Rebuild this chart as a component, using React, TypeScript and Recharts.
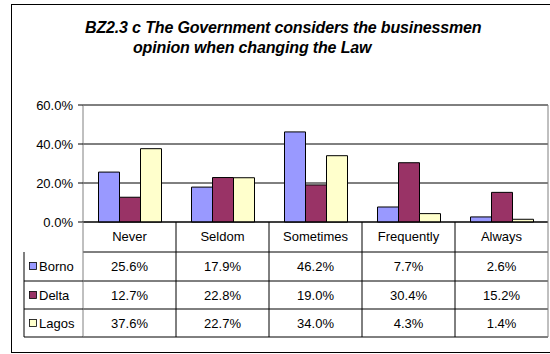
import { BarChart, Bar, XAxis, YAxis, CartesianGrid, ReferenceLine } from 'recharts';

const categories = ['Never', 'Seldom', 'Sometimes', 'Frequently', 'Always'];
const borno = [25.6, 17.9, 46.2, 7.7, 2.6];
const delta = [12.7, 22.8, 19.0, 30.4, 15.2];
const lagos = [37.6, 22.7, 34.0, 4.3, 1.4];
const yTicks = [0, 20, 40, 60];

const series = [
  { key: 'Borno', values: borno, color: '#9999FF' },
  { key: 'Delta', values: delta, color: '#993366' },
  { key: 'Lagos', values: lagos, color: '#FFFFCC' },
];

const data = categories.map((c, i) => ({
  name: c,
  Borno: borno[i],
  Delta: delta[i],
  Lagos: lagos[i],
}));

const FONT = '"Liberation Sans", Arial, sans-serif';
const CHART_W = 550;
const CHART_H = 354;
const PLOT_LEFT = 83;
const PLOT_RIGHT = 548;
const PLOT_H = 117;
const COL_W = (PLOT_RIGHT - PLOT_LEFT) / categories.length;
const LEGEND_W = 59;
// row boundaries below the axis line
const ROW_LINES = [30, 59, 87, 115];
const HEADER_Y = 14;
const ROW_Y = [44, 73, 101];
const GRAY = '#808080';

const TableTick = (props: any) => {
  const { x, y, payload } = props;
  const i = payload.index;
  const left = x - COL_W / 2;
  const right = x + COL_W / 2;
  const bottom = y + ROW_LINES[ROW_LINES.length - 1];
  const last = i === categories.length - 1;
  return (
    <g>
      <text x={x} y={y + HEADER_Y} textAnchor="middle" dominantBaseline="central"
        fontFamily={FONT} fontSize={13} fill="#000">{payload.value}</text>
      {series.map((s, r) => (
        <text key={s.key} x={x} y={y + ROW_Y[r]} textAnchor="middle" dominantBaseline="central"
          fontFamily={FONT} fontSize={13} fill="#000">{s.values[i].toFixed(1)}%</text>
      ))}
      {ROW_LINES.map((d) => (
        <line key={d} x1={left} x2={right} y1={y + d} y2={y + d} stroke="#000" />
      ))}
      <line x1={right} x2={right} y1={y} y2={bottom} stroke={last ? GRAY : '#000'} />
      {last && <line x1={right} x2={right} y1={y - PLOT_H} y2={y} stroke={GRAY} />}
      {i === 0 && (
        <g>
          <line x1={left} x2={left} y1={y} y2={bottom} stroke={GRAY} />
          <line x1={left - LEGEND_W} x2={left - LEGEND_W} y1={y + ROW_LINES[0]} y2={bottom} stroke="#000" />
          {ROW_LINES.slice(1).map((d) => (
            <line key={d} x1={left - LEGEND_W} x2={left} y1={y + d} y2={y + d} stroke="#000" />
          ))}
          {series.map((s, r) => (
            <g key={s.key}>
              <rect x={left - LEGEND_W + 5.5} y={y + ROW_Y[r] - 3.5} width={7} height={7}
                fill={s.color} stroke="#000" strokeWidth={0.8} />
              <text x={left - LEGEND_W + 15} y={y + ROW_Y[r]} dominantBaseline="central"
                fontFamily={FONT} fontSize={13} fill="#000">{s.key}</text>
            </g>
          ))}
        </g>
      )}
    </g>
  );
};

const titleStyle = {
  position: 'absolute' as const,
  fontFamily: FONT,
  fontSize: 16,
  fontWeight: 'bold' as const,
  fontStyle: 'italic' as const,
  whiteSpace: 'nowrap' as const,
  lineHeight: '16px',
  letterSpacing: '-0.15px',
};

export default function App() {
  return (
    <div style={{ position: 'absolute', left: 0, top: 0, width: CHART_W, height: CHART_H, overflow: 'hidden', background: '#fff' }}>
      <div style={{ position: 'absolute', left: 11, top: 4, width: 600, height: 349, border: '1px solid #000', boxSizing: 'border-box' }} />
      <div style={{ ...titleStyle, left: 85, top: 19.5 }}>
        BZ2.3 c The Government considers the businessmen
      </div>
      <div style={{ ...titleStyle, left: 133, top: 39.5 }}>
        opinion when changing the Law
      </div>
      <div style={{ position: 'absolute', left: 0, top: 0 }}>
        <BarChart
          width={CHART_W}
          height={CHART_H}
          data={data}
          margin={{ top: 105, right: CHART_W - PLOT_RIGHT, left: 11, bottom: 2 }}
          barCategoryGap="16.67%"
          barGap={0}
          style={{ fontFamily: FONT }}
        >
          <CartesianGrid vertical={false} stroke="#000" />
          <ReferenceLine y={60} stroke={GRAY} />
          <XAxis
            dataKey="name"
            height={130}
            axisLine={{ stroke: '#000' }}
            tickLine={false}
            tickSize={0}
            tickMargin={0}
            interval={0}
            tick={<TableTick />}
          />
          <YAxis
            width={PLOT_LEFT - 11}
            domain={[0, 60]}
            ticks={yTicks}
            tickFormatter={(v: number) => `${v.toFixed(1)}%`}
            axisLine={{ stroke: GRAY }}
            tickLine={{ stroke: '#000' }}
            tickSize={5}
            tickMargin={5}
            tick={{ fill: '#000', fontSize: 13, fontFamily: FONT }}
          />
          {series.map((s) => (
            <Bar key={s.key} dataKey={s.key} fill={s.color} stroke="#000" strokeWidth={1} isAnimationActive={false} />
          ))}
        </BarChart>
      </div>
    </div>
  );
}
